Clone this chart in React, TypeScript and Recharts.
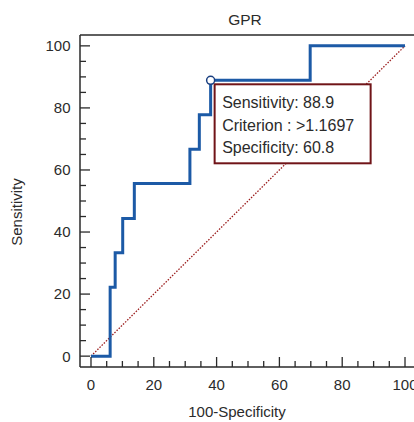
import React from 'react';
import { LineChart, Line, XAxis, YAxis, ReferenceLine, ReferenceDot, Label } from 'recharts';

// ROC curve corners (100-Specificity, Sensitivity), drawn as a step line
const fprSteps = [0, 6.1, 7.7, 10.1, 13.8, 31.5, 34.5, 38.1, 69.8, 100];
const sensSteps = [0, 22.2, 33.3, 44.4, 55.6, 66.7, 77.8, 88.9, 100, 100];

// chance diagonal end points
const chanceLine = [0, 100];

// axis ticks every 5, labels every 20
const axisTicks = [0, 5, 10, 15, 20, 25, 30, 35, 40, 45, 50, 55, 60, 65, 70, 75, 80, 85, 90, 95, 100];
const labelStep = 20;

// optimal criterion point
const criterionFpr = 38.1;
const criterionSens = 88.9;
const criterionLines = ['Sensitivity: 88.9', 'Criterion : >1.1697', 'Specificity: 60.8'];

const rocData = fprSteps.map((fpr, i) => ({ fpr, sens: sensSteps[i] }));

const DOMAIN: [number, number] = [-3.5, 103.5];
const AXIS = '#2a2a2a';
const TEXT = '#2b2b2b';
const FONT = '"Liberation Sans", Arial, sans-serif';

const YTick = (props: any) => {
  const { x, y, payload } = props;
  const major = payload.value % labelStep === 0;
  return (
    <g>
      <line x1={x} y1={y} x2={x + (major ? 10 : 6)} y2={y} stroke={AXIS} strokeWidth={1.3} />
      {major && (
        <text x={x - 9.5} y={y} dy="0.36em" textAnchor="end" fontSize={15} fill={TEXT} fontFamily={FONT}>
          {payload.value}
        </text>
      )}
    </g>
  );
};

const XTick = (props: any) => {
  const { x, y, payload } = props;
  const major = payload.value % labelStep === 0;
  return (
    <g>
      <line x1={x} y1={y} x2={x} y2={y - (major ? 10 : 6)} stroke={AXIS} strokeWidth={1.3} />
      {major && (
        <text x={x} y={y + 23} textAnchor="middle" fontSize={15} fill={TEXT} fontFamily={FONT}>
          {payload.value}
        </text>
      )}
    </g>
  );
};

const renderTitle = (props: any) => {
  const vb = props.viewBox || { x: 80, y: 35, width: 336, height: 0 };
  return (
    <text x={vb.x + vb.width / 2 - 3} y={vb.y - 10.5} textAnchor="middle" fontSize={15.5} fill={TEXT} fontFamily={FONT}>
      GPR
    </text>
  );
};

const renderXLabel = (props: any) => {
  const vb = props.viewBox || { x: 80, y: 367, width: 336, height: 55 };
  return (
    <text x={vb.x + vb.width / 2 - 11} y={vb.y + 50} textAnchor="middle" fontSize={15} fill={TEXT} fontFamily={FONT}>
      100-Specificity
    </text>
  );
};

const renderYLabel = (props: any) => {
  const vb = props.viewBox || { x: 0, y: 35, width: 80, height: 332 };
  const cx = vb.x + 21.5;
  const cy = vb.y + vb.height / 2 + 11;
  return (
    <text x={cx} y={cy} transform={`rotate(-90, ${cx}, ${cy})`} textAnchor="middle" fontSize={15} fill={TEXT} fontFamily={FONT}>
      Sensitivity
    </text>
  );
};

const CriterionMark = (props: any) => {
  const { cx, cy } = props;
  const left = cx + 4;
  const top = cy + 4;
  return (
    <g>
      <rect x={left} y={top} width={156} height={79} fill="#fff" stroke="#701418" strokeWidth={2} />
      {criterionLines.map((line, i) => (
        <text key={line} x={cx + 11.5} y={cy + 27.5 + i * 22.8} fontSize={16} fill={TEXT} fontFamily={FONT}>
          {line}
        </text>
      ))}
      <circle cx={cx} cy={cy} r={4} fill="#fff" stroke="#1a3f80" strokeWidth={1.5} />
    </g>
  );
};

export default function App() {
  return (
    <div style={{ position: 'absolute', left: 0, top: 0, width: 414, height: 422, overflow: 'hidden', background: '#fff' }}>
      <LineChart width={430} height={422} data={rocData} margin={{ top: 35, right: 14, bottom: 0, left: 0 }}>
        <XAxis
          dataKey="fpr"
          type="number"
          domain={DOMAIN}
          allowDataOverflow
          ticks={axisTicks}
          interval={0}
          height={55}
          tickSize={0}
          tickMargin={0}
          tickLine={false}
          tick={<XTick />}
          axisLine={{ stroke: AXIS, strokeWidth: 1.5 }}
        >
          <Label content={renderXLabel} />
        </XAxis>
        <YAxis
          type="number"
          domain={DOMAIN}
          allowDataOverflow
          ticks={axisTicks}
          interval={0}
          width={80}
          tickSize={0}
          tickMargin={0}
          tickLine={false}
          tick={<YTick />}
          axisLine={{ stroke: AXIS, strokeWidth: 1.5 }}
        >
          <Label content={renderYLabel} />
        </YAxis>
        <ReferenceLine y={DOMAIN[1]} stroke={AXIS} strokeWidth={1.5} ifOverflow="visible">
          <Label content={renderTitle} />
        </ReferenceLine>
        <ReferenceLine
          segment={[
            { x: chanceLine[0], y: chanceLine[0] },
            { x: chanceLine[1], y: chanceLine[1] },
          ]}
          stroke="#9b1c1c"
          strokeWidth={1.3}
          strokeDasharray="1.5 1.5"
        />
        <Line
          type="stepAfter"
          dataKey="sens"
          stroke="#1c5aa6"
          strokeWidth={3}
          dot={false}
          activeDot={false}
          isAnimationActive={false}
        />
        <ReferenceDot x={criterionFpr} y={criterionSens} r={4} shape={<CriterionMark />} />
      </LineChart>
    </div>
  );
}
